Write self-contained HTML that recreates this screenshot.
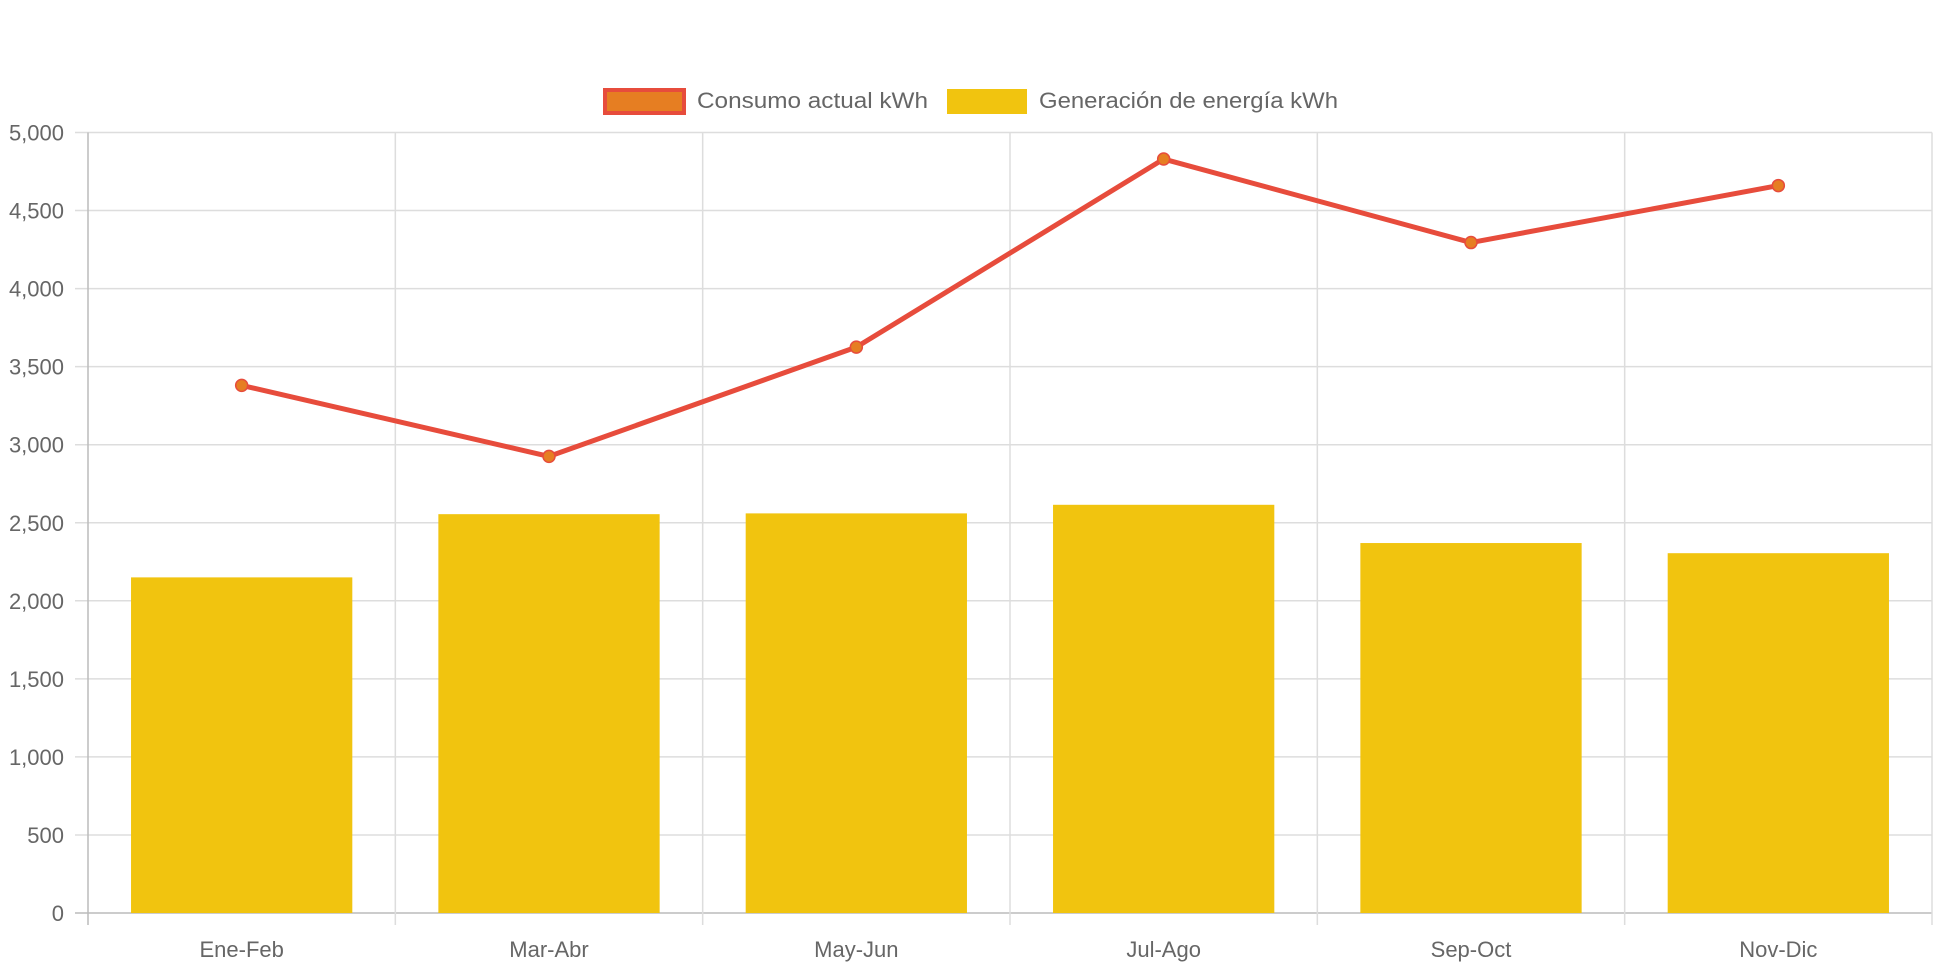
<!DOCTYPE html>
<html><head><meta charset="utf-8"><style>
body{margin:0;background:#fff;width:1942px;height:970px;overflow:hidden;font-family:"Liberation Sans",sans-serif}
</style></head><body>
<svg id="chart" width="1942" height="970" xmlns="http://www.w3.org/2000/svg" font-family="Liberation Sans, sans-serif">
<g>
<g>
<rect x="605" y="90" width="79" height="23" fill="#e67e22" stroke="#e74c3c" stroke-width="4"/>
<text x="697" y="108" font-size="22" fill="#666" textLength="231" lengthAdjust="spacingAndGlyphs">Consumo actual kWh</text></g>
<g>
<rect x="947" y="89" width="80" height="25" fill="#f1c40f"/>
<text x="1039" y="108" font-size="22" fill="#666" textLength="299" lengthAdjust="spacingAndGlyphs">Generación de energía kWh</text></g>
</g>
<g id="grid"></g>
<g id="bars"></g>
<g id="line"></g>
</svg>
<script>
const categories=["Ene-Feb","Mar-Abr","May-Jun","Jul-Ago","Sep-Oct","Nov-Dic"];
const consumo=[3380,2925,3625,4830,4295,4660];
const generacion=[2150,2555,2560,2615,2370,2305];
const yTicks=[0,500,1000,1500,2000,2500,3000,3500,4000,4500,5000];
const yTickLabels=["0","500","1,000","1,500","2,000","2,500","3,000","3,500","4,000","4,500","5,000"];
const NS="http://www.w3.org/2000/svg";
const L=88,R=1932,T=132.5,B=913,YMAX=5000;
const cw=(R-L)/categories.length;
function y(v){return B-(v/YMAX)*(B-T);}
function xc(i){return L+cw*(i+0.5);}
function mk(tag,attrs,parent){const e=document.createElementNS(NS,tag);for(const k in attrs)e.setAttribute(k,attrs[k]);parent.appendChild(e);return e;}
const grid=document.getElementById('grid');
yTicks.forEach((t,i)=>{
  const ln=mk('line',{x1:L-13,x2:R,y1:y(t),y2:y(t),stroke:i===0?'#bbb':'#ddd','stroke-width':1.5},grid);
  
  
  const tx=mk('text',{x:64,y:y(t)+8,'text-anchor':'end','font-size':22,fill:'#666'},grid);
  tx.textContent=yTickLabels[i];
  
  
});
for(let i=0;i<=categories.length;i++){
  const x=L+cw*i;
  const ln=mk('line',{x1:x,x2:x,y1:T,y2:B+12,stroke:i===0?'#bbb':'#ddd','stroke-width':1.5},grid);
  
  
}
categories.forEach((c,i)=>{
  const tx=mk('text',{x:xc(i),y:957,'text-anchor':'middle','font-size':22,fill:'#666'},grid);
  tx.textContent=c;
  
  
});
const bars=document.getElementById('bars');
const bw=cw*0.72;
generacion.forEach((v,i)=>{
  const r=mk('rect',{x:xc(i)-bw/2,y:y(v),width:bw,height:B-y(v),fill:'#f1c40f'},bars);
  
  
});
const line=document.getElementById('line');
const p=mk('polyline',{points:consumo.map((v,i)=>xc(i)+','+y(v)).join(' '),fill:'none',stroke:'#e74c3c','stroke-width':5,'stroke-linejoin':'round'},line);


consumo.forEach((v,i)=>{
  const c=mk('circle',{cx:xc(i),cy:y(v),r:6,fill:'#e67e22',stroke:'#e74c3c','stroke-width':1.5},line);
  
  
});
</script>
</body></html>
